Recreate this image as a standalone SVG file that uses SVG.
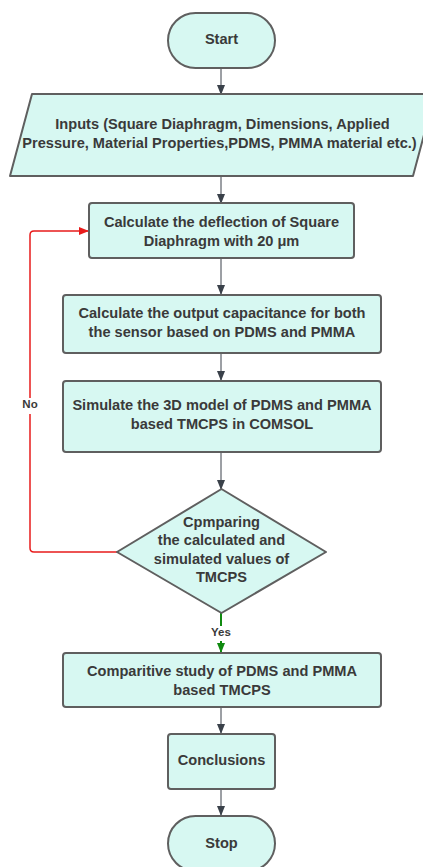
<svg xmlns="http://www.w3.org/2000/svg" width="423" height="867" viewBox="0 0 423 867">
<style>
.s{fill:#d7f8f2;stroke:#5f5f5f;stroke-width:2}
.t{font-family:"Liberation Sans",Arial,sans-serif;font-weight:bold;font-size:14.6px;fill:#3a3a3a;text-anchor:middle}
.l{font-family:"Liberation Sans",Arial,sans-serif;font-weight:bold;font-size:11.5px;fill:#3a3a3a;text-anchor:middle}
.c{fill:none;stroke:#3a414a;stroke-width:1}
.r{fill:none;stroke:#e81b1b;stroke-width:1.5}
.g{fill:none;stroke:#108a10;stroke-width:2}
</style>
<defs>
<marker id="ad" markerUnits="userSpaceOnUse" markerWidth="10" markerHeight="12" refX="9" refY="5" orient="auto" viewBox="0 0 10 10"><path d="M0,1 L10,5 L0,9 z" fill="#3a414a"/></marker>
<marker id="ar" markerUnits="userSpaceOnUse" markerWidth="10" markerHeight="12" refX="9" refY="5" orient="auto" viewBox="0 0 10 10"><path d="M0,1 L10,5 L0,9 z" fill="#e81b1b"/></marker>
<marker id="ag" markerUnits="userSpaceOnUse" markerWidth="10" markerHeight="12" refX="9" refY="5" orient="auto" viewBox="0 0 10 10"><path d="M0,1 L10,5 L0,9 z" fill="#108a10"/></marker>
</defs>
<g id="connectors">
<line class="c" x1="221" y1="68" x2="221" y2="94" marker-end="url(#ad)"/>
<line class="c" x1="221" y1="176" x2="221" y2="203" marker-end="url(#ad)"/>
<line class="c" x1="221" y1="258" x2="221" y2="294" marker-end="url(#ad)"/>
<line class="c" x1="221" y1="353" x2="221" y2="380" marker-end="url(#ad)"/>
<line class="c" x1="221" y1="452" x2="221" y2="489" marker-end="url(#ad)"/>
<line class="c" x1="221" y1="707" x2="221" y2="733" marker-end="url(#ad)"/>
<line class="c" x1="221" y1="789" x2="221" y2="815" marker-end="url(#ad)"/>
<path class="r" d="M117,552 H34 Q30,552 30,548 V414"/>
<path class="r" d="M30,398 V235 Q30,231 34,231 H88" marker-end="url(#ar)"/>
<text class="l" x="30" y="408">No</text>
<line class="g" x1="221" y1="613" x2="221" y2="626"/>
<line class="g" x1="221" y1="641" x2="221" y2="652" marker-end="url(#ag)"/>
<text class="l" x="221" y="636">Yes</text>
</g>
<g id="start">
<rect class="s" x="168" y="13" width="107" height="55" rx="27.5"/>
<text class="t" x="221.5" y="43.5">Start</text>
</g>
<g id="inputs">
<path class="s" d="M32,94 H435 L413,176 H10 Z" stroke-linejoin="round"/>
<text class="t" x="222.5" y="129">Inputs (Square Diaphragm, Dimensions, Applied</text>
<text class="t" x="219.5" y="148">Pressure, Material Properties,PDMS, PMMA material etc.)</text>
</g>
<g id="deflection">
<rect class="s" x="89" y="203" width="265" height="55" rx="3"/>
<text class="t" x="221.5" y="227">Calculate the deflection of Square</text>
<text class="t" x="221.5" y="245.5">Diaphragm with 20 μm</text>
</g>
<g id="capacitance">
<rect class="s" x="63" y="295" width="318" height="58" rx="3"/>
<text class="t" x="222" y="318">Calculate the output capacitance for both</text>
<text class="t" x="222" y="336.5">the sensor based on PDMS and PMMA</text>
</g>
<g id="simulate">
<rect class="s" x="63" y="381" width="318" height="71" rx="3"/>
<text class="t" x="222" y="410">Simulate the 3D model of PDMS and PMMA</text>
<text class="t" x="222" y="428.5">based TMCPS in COMSOL</text>
</g>
<g id="compare">
<path class="s" d="M221.5,489 L326,552 L221.5,613 L117,552 Z" stroke-linejoin="round"/>
<text class="t" x="221.5" y="527">Cpmparing</text>
<text class="t" x="221.5" y="545">the calculated and</text>
<text class="t" x="221.5" y="563.5">simulated values of</text>
<text class="t" x="221.5" y="581.5">TMCPS</text>
</g>
<g id="comparative">
<rect class="s" x="63" y="653" width="318" height="54" rx="3"/>
<text class="t" x="222" y="676">Comparitive study of PDMS and PMMA</text>
<text class="t" x="222" y="694.5">based TMCPS</text>
</g>
<g id="conclusions">
<rect class="s" x="168" y="734" width="107" height="55" rx="3"/>
<text class="t" x="221.5" y="764.5">Conclusions</text>
</g>
<g id="stop">
<rect class="s" x="168" y="816" width="107" height="55" rx="27.5"/>
<text class="t" x="221.5" y="847.5">Stop</text>
</g>
</svg>
